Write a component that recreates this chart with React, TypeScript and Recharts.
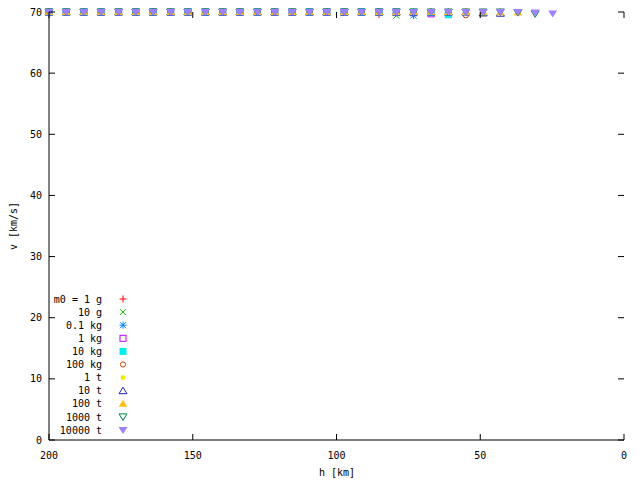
import React from 'react';
import { ScatterChart, Scatter, XAxis, YAxis } from 'recharts';

// altitude of each integration step [km]
const altitudes = [
  200.0, 194.0, 187.9, 181.9, 175.8, 169.8, 163.8, 157.7, 151.7, 145.6,
  139.6, 133.6, 127.5, 121.5, 115.4, 109.4, 103.4, 97.3, 91.3, 85.2,
  79.2, 73.2, 67.1, 61.1, 55.0, 49.0, 43.0, 36.9, 30.9, 24.8,
];

// velocity [km/s] per meteoroid mass, one value per altitude step until burn-out
const v1g = [70, 70, 70, 70, 70, 70, 70, 70, 70, 70, 70, 70, 70, 70, 70, 70, 70, 70, 70, 69.6];
const v10g = [70, 70, 70, 70, 70, 70, 70, 70, 70, 70, 70, 70, 70, 70, 70, 70, 70, 70, 70, 69.9, 69.4];
const v01kg = [70, 70, 70, 70, 70, 70, 70, 70, 70, 70, 70, 70, 70, 70, 70, 70, 70, 70, 70, 70, 69.9, 69.4];
const v1kg = [70, 70, 70, 70, 70, 70, 70, 70, 70, 70, 70, 70, 70, 70, 70, 70, 70, 70, 70, 70, 70, 69.9, 69.7];
const v10kg = [70, 70, 70, 70, 70, 70, 70, 70, 70, 70, 70, 70, 70, 70, 70, 70, 70, 70, 70, 70, 70, 70, 69.9, 69.55];
const v100kg = [70, 70, 70, 70, 70, 70, 70, 70, 70, 70, 70, 70, 70, 70, 70, 70, 70, 70, 70, 70, 70, 70, 70, 69.9, 69.45];
const v1t = [70, 70, 70, 70, 70, 70, 70, 70, 70, 70, 70, 70, 70, 70, 70, 70, 70, 70, 70, 70, 70, 70, 70, 70, 69.9, 69.6];
const v10t = [70, 70, 70, 70, 70, 70, 70, 70, 70, 70, 70, 70, 70, 70, 70, 70, 70, 70, 70, 70, 70, 70, 70, 70, 70, 69.85, 69.8];
const v100t = [70, 70, 70, 70, 70, 70, 70, 70, 70, 70, 70, 70, 70, 70, 70, 70, 70, 70, 70, 70, 70, 70, 70, 70, 70, 70, 69.95, 69.9];
const v1000t = [70, 70, 70, 70, 70, 70, 70, 70, 70, 70, 70, 70, 70, 70, 70, 70, 70, 70, 70, 70, 70, 70, 70, 70, 70, 70, 70, 69.9, 69.7];
const v10000t = [70, 70, 70, 70, 70, 70, 70, 70, 70, 70, 70, 70, 70, 70, 70, 70, 70, 70, 70, 70, 70, 70, 70, 70, 70, 70, 70, 70, 69.9, 69.75];

const massLabels = ['m0 = 1 g', '10 g', '0.1 kg', '1 kg', '10 kg', '100 kg', '1 t', '10 t', '100 t', '1000 t', '10000 t'];
const xTicks = [200, 150, 100, 50, 0];
const yTicks = [0, 10, 20, 30, 40, 50, 60, 70];

// gnuplot png terminal default colours and point types
const colors = ['#ff0000', '#00c000', '#0080ff', '#c000ff', '#00eeee', '#c04000', '#eeee00', '#2020c0', '#ffc020', '#008040', '#a080ff'];
const pointTypes = ['plus', 'cross', 'star', 'square', 'fsquare', 'circle', 'fcircle', 'tri', 'ftri', 'dtri', 'fdtri'];

const velocities = [v1g, v10g, v01kg, v1kg, v10kg, v100kg, v1t, v10t, v100t, v1000t, v10000t];

const series = massLabels.map((name, i) => ({
  name,
  color: colors[i],
  type: pointTypes[i],
  data: velocities[i].map((v, k) => ({ h: altitudes[k], v })),
}));

const PLOT = { left: 49, right: 624, top: 12, bottom: 440 };
const FONT = '"DejaVu Sans Mono", "Liberation Mono", monospace';

function Marker({ cx, cy, type, color }: { cx: number; cy: number; type: string; color: string }) {
  const s = { stroke: color, strokeWidth: 1, fill: 'none' };
  switch (type) {
    case 'plus':
      return (
        <g {...s}>
          <line x1={cx - 3.5} x2={cx + 3.5} y1={cy} y2={cy} />
          <line x1={cx} x2={cx} y1={cy - 3.5} y2={cy + 3.5} />
        </g>
      );
    case 'cross':
      return (
        <g {...s}>
          <line x1={cx - 3} x2={cx + 3} y1={cy - 3} y2={cy + 3} />
          <line x1={cx - 3} x2={cx + 3} y1={cy + 3} y2={cy - 3} />
        </g>
      );
    case 'star':
      return (
        <g {...s}>
          <line x1={cx - 3.5} x2={cx + 3.5} y1={cy} y2={cy} />
          <line x1={cx} x2={cx} y1={cy - 3.5} y2={cy + 3.5} />
          <line x1={cx - 3} x2={cx + 3} y1={cy - 3} y2={cy + 3} />
          <line x1={cx - 3} x2={cx + 3} y1={cy + 3} y2={cy - 3} />
        </g>
      );
    case 'square':
      return <rect x={cx - 3} y={cy - 3} width={6} height={6} {...s} />;
    case 'fsquare':
      return <rect x={cx - 3.5} y={cy - 3.5} width={7} height={7} fill={color} />;
    case 'circle':
      return <circle cx={cx} cy={cy} r={2.6} {...s} />;
    case 'fcircle':
      return <circle cx={cx} cy={cy} r={2.4} fill={color} />;
    case 'tri':
      return <polygon points={`${cx},${cy - 3.5} ${cx + 4},${cy + 3} ${cx - 4},${cy + 3}`} {...s} />;
    case 'ftri':
      return <polygon points={`${cx},${cy - 4} ${cx + 4.5},${cy + 3} ${cx - 4.5},${cy + 3}`} fill={color} />;
    case 'dtri':
      return <polygon points={`${cx - 4},${cy - 3} ${cx + 4},${cy - 3} ${cx},${cy + 3.5}`} {...s} />;
    default:
      return <polygon points={`${cx - 4.5},${cy - 3} ${cx + 4.5},${cy - 3} ${cx},${cy + 4}`} fill={color} />;
  }
}

function XTick(props: any) {
  const { x, payload } = props;
  return (
    <g>
      <line x1={x} x2={x} y1={PLOT.bottom} y2={PLOT.bottom - 6} stroke="#000" />
      <line x1={x} x2={x} y1={PLOT.top} y2={PLOT.top + 6} stroke="#000" />
      <text x={x} y={459} textAnchor="middle" fontFamily={FONT} fontSize={10} fill="#000">
        {payload.value}
      </text>
    </g>
  );
}

function YTick(props: any) {
  const { y, payload } = props;
  return (
    <g>
      <line x1={PLOT.left} x2={PLOT.left + 6} y1={y} y2={y} stroke="#000" />
      <line x1={PLOT.right} x2={PLOT.right - 6} y1={y} y2={y} stroke="#000" />
      <text x={42} y={y + 3.6} textAnchor="end" fontFamily={FONT} fontSize={10} fill="#000">
        {payload.value}
      </text>
    </g>
  );
}

// gnuplot-style key, bottom left inside the plot
function Key() {
  return (
    <g>
      {series.map((s, i) => {
        const y = 299 + 13.1 * i;
        return (
          <g key={s.name}>
            <text x={102} y={y + 3.6} textAnchor="end" fontFamily={FONT} fontSize={10} fill="#000">
              {s.name}
            </text>
            <Marker cx={123} cy={y} type={s.type} color={s.color} />
          </g>
        );
      })}
    </g>
  );
}

export default function App() {
  return (
    <div style={{ position: 'absolute', left: 0, top: 0, width: 640, height: 480, background: '#fff' }}>
      <ScatterChart width={640} height={480} margin={{ top: 12, right: 16, bottom: 0, left: 0 }}>
        <XAxis
          dataKey="h"
          type="number"
          domain={[0, 200]}
          reversed
          ticks={xTicks}
          height={40}
          tick={<XTick />}
          tickLine={false}
          axisLine={{ stroke: '#000' }}
          label={{
            content: () => (
              <text x={337} y={476} textAnchor="middle" fontFamily={FONT} fontSize={10} fill="#000">
                h [km]
              </text>
            ),
          }}
        />
        <XAxis xAxisId="top" orientation="top" type="number" domain={[0, 200]} reversed height={0} tick={false} tickLine={false} axisLine={{ stroke: '#000' }} />
        <YAxis
          dataKey="v"
          type="number"
          domain={[0, 70]}
          ticks={yTicks}
          width={49}
          tick={<YTick />}
          tickLine={false}
          axisLine={{ stroke: '#000' }}
          label={{
            content: () => (
              <text x={17} y={226} transform="rotate(-90 17 226)" textAnchor="middle" fontFamily={FONT} fontSize={10} fill="#000">
                v [km/s]
              </text>
            ),
          }}
        />
        <YAxis yAxisId="right" orientation="right" type="number" domain={[0, 70]} width={0} tick={false} tickLine={false} axisLine={{ stroke: '#000' }} />
        <Key />
        {series.map((s) => (
          <Scatter
            key={s.name}
            name={s.name}
            data={s.data}
            isAnimationActive={false}
            shape={(p: any) => <Marker cx={p.cx} cy={p.cy} type={s.type} color={s.color} />}
          />
        ))}
      </ScatterChart>
    </div>
  );
}
